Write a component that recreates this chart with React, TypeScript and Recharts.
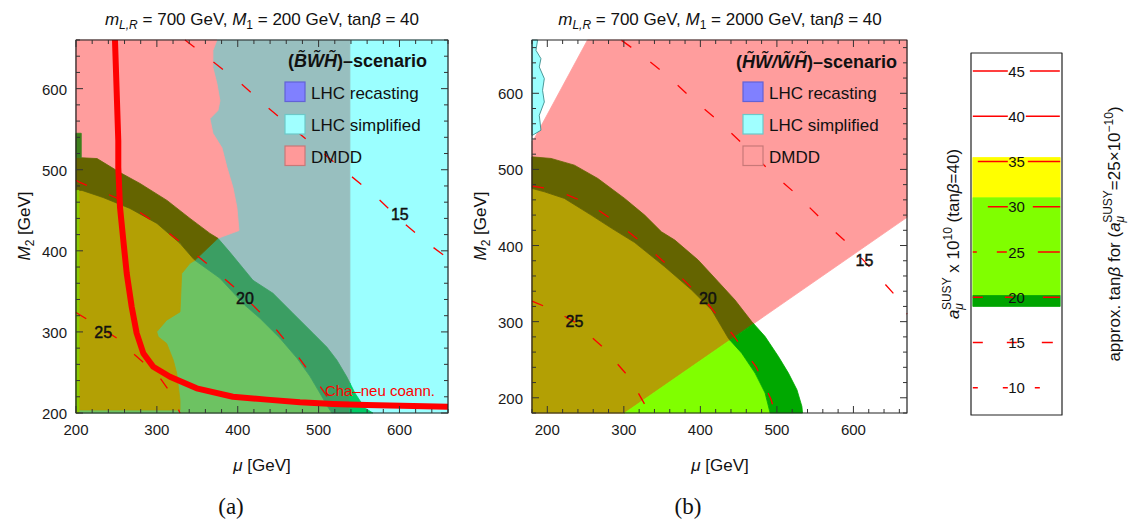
import React from 'react';
import { ComposedChart, Scatter, XAxis, YAxis } from 'recharts';

type Pt = { x: number; y: number };
type Lbl = { x: number; y: number; text: string };

const SANS = "'Liberation Sans', Arial, Helvetica, sans-serif";
const SERIF = "'Liberation Serif', 'Times New Roman', serif";

// ---------------- Panel (a): M1 = 200 GeV ----------------
const A_DOMAIN: [number, number] = [200, 660];
const A_TICKS = [200, 220, 240, 260, 280, 300, 320, 340, 360, 380, 400, 420, 440, 460, 480, 500, 520, 540, 560, 580, 600, 620, 640, 660];

const A_LHC_SIMPLIFIED: Pt[] = [{ x: 538.7, y: 200 }, { x: 660, y: 200 }, { x: 660, y: 660 }, { x: 538.7, y: 660 }];
const A_OVERLAP: Pt[] = [{ x: 200, y: 200 }, { x: 538.7, y: 200 }, { x: 538.7, y: 660 }, { x: 200, y: 660 }];
const A_DMDD: Pt[] = [
  { x: 200, y: 660 }, { x: 374.3, y: 660 }, { x: 369.3, y: 647 }, { x: 369.3, y: 626 }, { x: 374.3, y: 606 },
  { x: 378, y: 585 }, { x: 375.5, y: 573 }, { x: 365.6, y: 563 }, { x: 369.3, y: 545 }, { x: 380.5, y: 527 },
  { x: 386.7, y: 503 }, { x: 394.1, y: 478 }, { x: 399, y: 453.5 }, { x: 401.5, y: 425 }, { x: 375.5, y: 415.4 },
  { x: 365.6, y: 421.5 }, { x: 340.9, y: 440 }, { x: 312.5, y: 462.2 }, { x: 279.1, y: 483.1 }, { x: 254.4, y: 496.6 },
  { x: 226, y: 513.8 }, { x: 200, y: 515 },
];
const A_LIGHT_GREEN: Pt[] = [
  { x: 200, y: 200 }, { x: 516.4, y: 200 }, { x: 511.5, y: 207.4 }, { x: 501.6, y: 224.6 }, { x: 489.2, y: 245.5 },
  { x: 473.2, y: 267.7 }, { x: 452.2, y: 292.3 }, { x: 427.4, y: 316.9 }, { x: 408.9, y: 332.9 }, { x: 378, y: 366.2 },
  { x: 347.1, y: 388.3 }, { x: 200, y: 388.3 },
];
const A_DARK_GREEN: Pt[] = [
  { x: 375.5, y: 415.4 }, { x: 390.4, y: 398.2 }, { x: 418.8, y: 363.7 }, { x: 443.5, y: 347.7 }, { x: 468.2, y: 323.1 },
  { x: 493, y: 298.5 }, { x: 510.3, y: 281.2 }, { x: 522.6, y: 265.2 }, { x: 535, y: 244.3 }, { x: 538.7, y: 236.9 },
  { x: 538.7, y: 200 }, { x: 516.4, y: 200 }, { x: 511.5, y: 207.4 }, { x: 501.6, y: 224.6 }, { x: 489.2, y: 245.5 },
  { x: 473.2, y: 267.7 }, { x: 452.2, y: 292.3 }, { x: 427.4, y: 316.9 }, { x: 408.9, y: 332.9 }, { x: 378, y: 366.2 },
  { x: 347.1, y: 388.3 },
];
const A_BRIGHT_GREEN: Pt[] = [{ x: 538.7, y: 236.9 }, { x: 544.9, y: 224.6 }, { x: 557.2, y: 206.2 }, { x: 567.1, y: 200 }, { x: 538.7, y: 200 }];
const A_OLIVE: Pt[] = [
  { x: 203.7, y: 203.7 }, { x: 328.6, y: 203.7 }, { x: 328.6, y: 216 }, { x: 324.5, y: 248.9 }, { x: 320.3, y: 265.2 },
  { x: 312.1, y: 285.8 }, { x: 301.7, y: 293.9 }, { x: 299.8, y: 300.1 }, { x: 312.1, y: 314.5 }, { x: 328.6, y: 324.7 },
  { x: 330.7, y: 371.9 }, { x: 340.9, y: 384.6 }, { x: 347.1, y: 388.3 }, { x: 344.6, y: 390.8 }, { x: 328.6, y: 409.2 },
  { x: 300.1, y: 433.8 }, { x: 266.7, y: 452.3 }, { x: 233.4, y: 465.8 }, { x: 207.4, y: 474.5 }, { x: 203.7, y: 474.5 },
];
const A_DARK_OLIVE: Pt[] = [
  { x: 200, y: 515.1 }, { x: 226, y: 513.8 }, { x: 254.4, y: 496.6 }, { x: 279.1, y: 483.1 }, { x: 312.5, y: 462.2 },
  { x: 340.9, y: 440 }, { x: 365.6, y: 421.5 }, { x: 375.5, y: 415.4 }, { x: 347.1, y: 388.3 }, { x: 344.6, y: 390.8 },
  { x: 328.6, y: 409.2 }, { x: 300.1, y: 433.8 }, { x: 266.7, y: 452.3 }, { x: 233.4, y: 465.8 }, { x: 207.4, y: 474.5 },
  { x: 200, y: 474.5 },
];
const A_LEFT_STRIP: Pt[] = [{ x: 200, y: 200 }, { x: 203.7, y: 200 }, { x: 203.7, y: 474.5 }, { x: 200, y: 474.5 }];
const A_LEFT_SLIVER: Pt[] = [{ x: 200, y: 515 }, { x: 206.5, y: 515 }, { x: 206.5, y: 545 }, { x: 200, y: 545 }];
const A_COANN: Pt[] = [
  { x: 248.2, y: 660 }, { x: 252.3, y: 536 }, { x: 252.3, y: 503.1 }, { x: 254.4, y: 453.9 }, { x: 258.5, y: 413 },
  { x: 262.7, y: 372.3 }, { x: 268.9, y: 330.8 }, { x: 275, y: 298.5 }, { x: 283.2, y: 273.8 }, { x: 295.5, y: 257 },
  { x: 316.2, y: 244.7 }, { x: 349.2, y: 230.4 }, { x: 394, y: 220 }, { x: 436, y: 216.5 }, { x: 476.9, y: 213.2 },
  { x: 518, y: 211.1 }, { x: 559.3, y: 209.8 }, { x: 660, y: 207.8 },
];
const A_C15: Pt[] = [
  { x: 334.8, y: 660 }, { x: 402.7, y: 607.4 }, { x: 437.3, y: 576.6 }, { x: 501.6, y: 523.7 }, { x: 536.2, y: 495.4 },
  { x: 570.8, y: 467.1 }, { x: 601.7, y: 437.5 }, { x: 635.1, y: 409.2 }, { x: 659.8, y: 390.8 },
];
const A_C20: Pt[] = [
  { x: 200, y: 487 }, { x: 204.9, y: 484.3 }, { x: 254.4, y: 463.4 }, { x: 297.7, y: 435.1 }, { x: 336, y: 405.5 },
  { x: 371.8, y: 376 }, { x: 402.7, y: 348.9 }, { x: 442.3, y: 309.5 }, { x: 473.2, y: 271.4 }, { x: 501.6, y: 233.2 },
  { x: 517.7, y: 209.8 }, { x: 522.6, y: 200 },
];
const A_C25: Pt[] = [
  { x: 200, y: 324 }, { x: 229.7, y: 305.8 }, { x: 254.4, y: 289.8 }, { x: 272.9, y: 271.4 }, { x: 301.4, y: 246.8 },
  { x: 318.7, y: 222.2 }, { x: 328.6, y: 200 },
];
const A_LABELS: Lbl[] = [
  { x: 600.5, y: 444.9, text: '15' }, { x: 408.9, y: 341.5, text: '20' }, { x: 233.7, y: 299.3, text: '25' },
];
const A_COANN_LABEL: Lbl[] = [{ x: 507.8, y: 220.9, text: 'Cha–neu coann.' }];

// ---------------- Panel (b): M1 = 2000 GeV ----------------
const B_DOMAIN: [number, number] = [180, 670];
const B_TICKS = [180, 200, 220, 240, 260, 280, 300, 320, 340, 360, 380, 400, 420, 440, 460, 480, 500, 520, 540, 560, 580, 600, 620, 640, 660];

const B_LHC_SIMPLIFIED: Pt[] = [
  { x: 180, y: 670 }, { x: 187.3, y: 670 }, { x: 185.2, y: 656.4 }, { x: 191.7, y: 645.5 }, { x: 189.5, y: 634.6 },
  { x: 196.1, y: 619.3 }, { x: 193.8, y: 603.9 }, { x: 196.1, y: 588.6 }, { x: 189.5, y: 571.1 }, { x: 191.7, y: 551.5 },
  { x: 180.7, y: 544.9 }, { x: 180, y: 544.9 },
];
const B_DMDD: Pt[] = [
  { x: 180, y: 537 }, { x: 183, y: 540.6 }, { x: 252.5, y: 670 }, { x: 670, y: 670 }, { x: 670, y: 437 },
  { x: 301, y: 180 }, { x: 180, y: 180 },
];
const B_INNER_UP: Pt[] = [
  { x: 180, y: 475 }, { x: 196.1, y: 470.6 }, { x: 222.3, y: 461.9 }, { x: 257.3, y: 440 }, { x: 283.5, y: 423 },
  { x: 314.1, y: 404 }, { x: 353.4, y: 372.2 }, { x: 388.5, y: 341.6 }, { x: 414.7, y: 315.4 }, { x: 436.5, y: 278.3 },
];
const B_INNER_LO: Pt[] = [{ x: 454, y: 258.6 }, { x: 471.5, y: 232.4 }, { x: 484.6, y: 206.2 }, { x: 491.1, y: 180 }];
const B_OUTER_UP: Pt[] = [
  { x: 180, y: 516.5 }, { x: 204.9, y: 514.4 }, { x: 235.4, y: 505.6 }, { x: 266, y: 488.1 }, { x: 301, y: 461.9 },
  { x: 327.2, y: 440 }, { x: 349.1, y: 418.1 }, { x: 366.6, y: 407.2 }, { x: 397.1, y: 381 }, { x: 423.3, y: 352.5 },
  { x: 445.2, y: 328.5 }, { x: 467.1, y: 300.1 },
];
const B_OUTER_LO: Pt[] = [
  { x: 484.6, y: 280.4 }, { x: 502, y: 254.2 }, { x: 515.1, y: 232.4 }, { x: 526.2, y: 210.5 }, { x: 532.7, y: 188.6 },
  { x: 533.5, y: 180 },
];
const B_CUT_INNER: Pt = { x: 438.6, y: 275.7 };
const B_CUT_OUTER: Pt = { x: 469.6, y: 297.4 };
const B_DMDD_FOOT: Pt = { x: 301, y: 180 };
const B_CORNER: Pt = { x: 180, y: 180 };
const B_C15: Pt[] = [
  { x: 297, y: 669.5 }, { x: 320.7, y: 652.5 }, { x: 356.1, y: 623.6 }, { x: 390.2, y: 592.1 }, { x: 425.6, y: 562 },
  { x: 457, y: 531.8 }, { x: 489.8, y: 499 }, { x: 525.2, y: 467.5 }, { x: 559.3, y: 433.4 }, { x: 593.4, y: 402 },
  { x: 624.9, y: 367.9 }, { x: 655.1, y: 333.8 }, { x: 670, y: 310 },
];
const B_C20: Pt[] = [
  { x: 180, y: 478 }, { x: 207.9, y: 474.1 }, { x: 255.1, y: 454.4 }, { x: 297, y: 425.6 }, { x: 336.4, y: 392.8 },
  { x: 374.4, y: 358.7 }, { x: 409.8, y: 323.3 }, { x: 442.6, y: 282.6 }, { x: 472.8, y: 240.7 }, { x: 492.5, y: 197.4 },
  { x: 497.7, y: 180 },
];
const B_C25: Pt[] = [
  { x: 180, y: 327 }, { x: 210.5, y: 314.1 }, { x: 235.4, y: 299.7 }, { x: 272.1, y: 266.9 }, { x: 307.5, y: 226.2 },
  { x: 333.8, y: 180 },
];
const B_LABELS: Lbl[] = [
  { x: 614.4, y: 379.7, text: '15' }, { x: 409.8, y: 329.8, text: '20' }, { x: 235.4, y: 299.7, text: '25' },
];

// ---------------- Panel (c): a_mu scale ----------------
const C_DOMAIN: [number, number] = [7, 47];
const C_YELLOW_BAND = [31.0, 35.45];
const C_LIME_BAND = [20.2, 31.0];
const C_GREEN_BAND = [19.0, 20.2];
const C_LEVELS = [45, 40, 35, 30, 25, 20, 15, 10];
const C_TANB_TICKS = [25, 30, 40, 60, 80, 120];
const A_MU_REF = 25;
const TANB_REF = 40;

// ---------------- styles ----------------
const COL = {
  cyan: '#9BFFFF',
  gray: '#98BFBF',
  pink: '#FF9D9D',
  olive: '#B3A004',
  darkOlive: '#646400',
  aDarkGreen: '#3B9E63',
  aLightGreen: '#6DC262',
  brightGreen: '#00CC66',
  bDarkGreen: '#00A800',
  lime: '#80FF00',
  yellow: '#FFFF00',
  cGreen: '#00A400',
  red: '#FF0000',
};
const C_DASH: Record<number, string> = {
  45: '35 22 30',
  40: '35 18 34',
  35: '0 5 30 20 31',
  30: '0 15 20 25 26',
  25: '4 20 10 31 22',
  20: '10 22 8 30 17',
  15: '10 24 10 25 11 20',
  10: '5 25 5 27 5 30',
};

type Plot = { x0: number; x1: number; y0: number; y1: number };
const mkPlot = (w: number, h: number, m: { top: number; right: number; bottom: number; left: number }, yW: number, xH: number): Plot => ({
  x0: m.left + yW, x1: w - m.right, y0: m.top, y1: h - m.bottom - xH,
});

const LA = { left: 0, top: 0, width: 470, height: 470, margin: { top: 40, right: 22, bottom: 27, left: 36 }, yW: 40, xH: 30 };
const LB = { left: 480, top: 0, width: 440, height: 470, margin: { top: 40, right: 13, bottom: 27, left: 12 }, yW: 40, xH: 30 };
const LC = { left: 930, top: 0, width: 170, height: 470, margin: { top: 53, right: 0, bottom: 55, left: 41 }, yW: 38 };
const PA = mkPlot(LA.width, LA.height, LA.margin, LA.yW, LA.xH);
const PB = mkPlot(LB.width, LB.height, LB.margin, LB.yW, LB.xH);
const PC: Plot = { x0: LC.margin.left, x1: LC.width - LC.margin.right - LC.yW, y0: LC.margin.top, y1: LC.height - LC.margin.bottom };

const NoShape = () => <g />;
const toPath = (pts: { x: number; y: number }[], close: boolean) =>
  pts.map((p, i) => `${i === 0 ? 'M' : 'L'}${p.x.toFixed(2)},${p.y.toFixed(2)}`).join('') + (close ? 'Z' : '');

function region(key: string, data: Pt[], fill: string, yId = 'y', stroke?: string, sw = 0.8) {
  return (
    <Scatter
      key={key}
      data={data}
      xAxisId="x"
      yAxisId={yId}
      isAnimationActive={false}
      shape={NoShape}
      line={(lp: any) => (
        <path d={toPath(lp.points || [], true)} fill={fill} stroke={stroke ?? fill} strokeWidth={sw} strokeLinejoin="round" />
      )}
    />
  );
}

function curve(key: string, data: Pt[], stroke: string, sw: number, dash?: string, yId = 'y', close = false) {
  return (
    <Scatter
      key={key}
      data={data}
      xAxisId="x"
      yAxisId={yId}
      isAnimationActive={false}
      shape={NoShape}
      line={(lp: any) => (
        <path d={toPath(lp.points || [], close)} fill="none" stroke={stroke} strokeWidth={sw} strokeDasharray={dash}
          strokeLinejoin="round" strokeLinecap="butt" />
      )}
    />
  );
}

function textMarks(key: string, data: Lbl[], color: string, size: number, anchor: 'start' | 'middle', dy: number, yId = 'y', heavy = false) {
  return data.map((d, i) => (
    <Scatter
      key={`${key}-${i}`}
      data={[{ x: d.x, y: d.y }]}
      xAxisId="x"
      yAxisId={yId}
      isAnimationActive={false}
      shape={(sp: any) => (
        <text x={sp.cx} y={sp.cy + dy} textAnchor={anchor} fontSize={size} fontFamily={SANS} fill={color}
          stroke={heavy ? color : 'none'} strokeWidth={heavy ? 0.45 : 0}>{d.text}</text>
      )}
    />
  ));
}

function xTick(plot: Plot) {
  return (props: any) => {
    const v = props.payload?.value;
    const c = props.payload?.coordinate ?? props.x;
    const major = v % 100 === 0;
    const len = major ? 7 : 4;
    return (
      <g>
        <line x1={c} x2={c} y1={plot.y1} y2={plot.y1 - len} stroke="#333" strokeWidth={1} />
        <line x1={c} x2={c} y1={plot.y0} y2={plot.y0 + len} stroke="#333" strokeWidth={1} />
        {major ? (
          <text x={c} y={plot.y1 + 22} textAnchor="middle" fontSize={15} fontFamily={SANS} fill="#1a1a1a">{v}</text>
        ) : null}
      </g>
    );
  };
}

function yTick(plot: Plot) {
  return (props: any) => {
    const v = props.payload?.value;
    const c = props.payload?.coordinate ?? props.y;
    const major = v % 100 === 0;
    const len = major ? 7 : 4;
    return (
      <g>
        <line x1={plot.x0} x2={plot.x0 + len} y1={c} y2={c} stroke="#333" strokeWidth={1} />
        <line x1={plot.x1} x2={plot.x1 - len} y1={c} y2={c} stroke="#333" strokeWidth={1} />
        {major ? (
          <text x={plot.x0 - 9} y={c + 6} textAnchor="end" fontSize={15} fontFamily={SANS} fill="#1a1a1a">{v}</text>
        ) : null}
      </g>
    );
  };
}

function cTick(props: any) {
  const v = props.payload?.value;
  const c = props.payload?.coordinate ?? props.y;
  const label = Math.round((A_MU_REF * TANB_REF) / v);
  return (
    <g>
      <line x1={PC.x1} x2={PC.x1 + 4} y1={c} y2={c} stroke="#222" strokeWidth={1} />
      <text x={PC.x1 + 6} y={c + 5.5} textAnchor="start" fontSize={15} fontFamily={SANS} fill="#1a1a1a">{label}</text>
    </g>
  );
}

const frame = (d: [number, number]): Pt[] => [{ x: d[0], y: d[0] }, { x: d[1], y: d[0] }, { x: d[1], y: d[1] }, { x: d[0], y: d[1] }];
const band = (b: number[]): Pt[] => [{ x: 0.02, y: b[0] }, { x: 0.98, y: b[0] }, { x: 0.98, y: b[1] }, { x: 0.02, y: b[1] }];
const rev = (a: Pt[]) => [...a].reverse();

const B_OLIVE_POLY: Pt[] = [B_CORNER, ...B_INNER_UP, B_CUT_INNER, B_DMDD_FOOT];
const B_LIME_POLY: Pt[] = [B_DMDD_FOOT, B_CUT_INNER, ...B_INNER_LO];
const B_DARK_OLIVE_POLY: Pt[] = [...B_OUTER_UP, B_CUT_OUTER, B_CUT_INNER, ...rev(B_INNER_UP)];
const B_DARK_GREEN_POLY: Pt[] = [B_CUT_OUTER, ...B_OUTER_LO, ...rev(B_INNER_LO), B_CUT_INNER];

const DASH = '12 24';

function PanelA() {
  return (
    <ComposedChart width={LA.width} height={LA.height} margin={LA.margin}>
      {region('cyan', A_LHC_SIMPLIFIED, COL.cyan)}
      {region('gray', A_OVERLAP, COL.gray)}
      {region('pink', A_DMDD, COL.pink)}
      {region('lg', A_LIGHT_GREEN, COL.aLightGreen)}
      {region('dg', A_DARK_GREEN, COL.aDarkGreen)}
      {region('bg', A_BRIGHT_GREEN, COL.brightGreen)}
      {region('ol', A_OLIVE, COL.olive)}
      {region('dol', A_DARK_OLIVE, COL.darkOlive)}
      {region('ls', A_LEFT_STRIP, '#8CCB00')}
      {region('lsl', A_LEFT_SLIVER, '#3E7F1C')}
      {curve('c15', A_C15, COL.red, 1.3, DASH)}
      {curve('c20', A_C20, COL.red, 1.3, DASH)}
      {curve('c25', A_C25, COL.red, 1.3, DASH)}
      {curve('coann', A_COANN, COL.red, 6)}
      {textMarks('lab', A_LABELS, '#111', 16, 'middle', 5.5, 'y', true)}
      {textMarks('coannlab', A_COANN_LABEL, COL.red, 15, 'start', 0)}
      {curve('frame', frame(A_DOMAIN), '#222', 1.2, undefined, 'y', true)}
      <XAxis xAxisId="x" type="number" dataKey="x" domain={A_DOMAIN} ticks={A_TICKS} interval={0} height={LA.xH}
        axisLine={false} tickLine={false} tick={xTick(PA)} zIndex={2000} />
      <YAxis yAxisId="y" type="number" dataKey="y" domain={A_DOMAIN} ticks={A_TICKS} interval={0} width={LA.yW}
        axisLine={false} tickLine={false} tick={yTick(PA)} zIndex={2000} />
    </ComposedChart>
  );
}

function PanelB() {
  return (
    <ComposedChart width={LB.width} height={LB.height} margin={LB.margin}>
      {region('pink', B_DMDD, COL.pink)}
      {region('cyan', B_LHC_SIMPLIFIED, COL.cyan, 'y', '#3C8C8C', 0.9)}
      {region('ol', B_OLIVE_POLY, COL.olive)}
      {region('lime', B_LIME_POLY, COL.lime)}
      {region('dol', B_DARK_OLIVE_POLY, COL.darkOlive)}
      {region('dg', B_DARK_GREEN_POLY, COL.bDarkGreen)}
      {curve('c15', B_C15, COL.red, 1.3, DASH)}
      {curve('c20', B_C20, COL.red, 1.3, DASH)}
      {curve('c25', B_C25, COL.red, 1.3, DASH)}
      {textMarks('lab', B_LABELS, '#111', 16, 'middle', 5.5, 'y', true)}
      {curve('frame', frame(B_DOMAIN), '#222', 1.2, undefined, 'y', true)}
      <XAxis xAxisId="x" type="number" dataKey="x" domain={B_DOMAIN} ticks={B_TICKS} interval={0} height={LB.xH}
        axisLine={false} tickLine={false} tick={xTick(PB)} zIndex={2000} />
      <YAxis yAxisId="y" type="number" dataKey="y" domain={B_DOMAIN} ticks={B_TICKS} interval={0} width={LB.yW}
        axisLine={false} tickLine={false} tick={yTick(PB)} zIndex={2000} />
    </ComposedChart>
  );
}

function PanelC() {
  const tickPos = C_TANB_TICKS.map((t) => (A_MU_REF * TANB_REF) / t);
  return (
    <ComposedChart width={LC.width} height={LC.height} margin={LC.margin}>
      {region('yellow', band(C_YELLOW_BAND), COL.yellow, 'l')}
      {region('lime', band(C_LIME_BAND), COL.lime, 'l')}
      {region('green', band(C_GREEN_BAND), COL.cGreen, 'l')}
      {C_LEVELS.map((lv) =>
        curve(`lv${lv}`, [{ x: 0.02, y: lv }, { x: 0.98, y: lv }], COL.red, 1.5, C_DASH[lv], 'l')
      )}
      {textMarks('lvl', C_LEVELS.map((lv) => ({ x: 0.5, y: lv, text: String(lv) })), '#111', 15, 'middle', 5.5, 'l')}
      {curve('frame', [{ x: 0, y: C_DOMAIN[0] }, { x: 1, y: C_DOMAIN[0] }, { x: 1, y: C_DOMAIN[1] }, { x: 0, y: C_DOMAIN[1] }], '#222', 1.2, undefined, 'l', true)}
      <XAxis xAxisId="x" type="number" dataKey="x" domain={[0, 1]} hide />
      <YAxis yAxisId="l" type="number" dataKey="y" domain={C_DOMAIN} hide />
      <YAxis yAxisId="r" orientation="right" type="number" dataKey="y" domain={C_DOMAIN} ticks={tickPos} interval={0}
        width={LC.yW} axisLine={false} tickLine={false} tick={cTick} zIndex={2000} />
    </ComposedChart>
  );
}

function LegendBlock({ x, titleRight, titleY, scenario, dmddFill }: { x: number; titleRight: number; titleY: number; scenario: React.ReactNode; dmddFill: string }) {
  const rows = [
    { label: 'LHC recasting', fill: '#8080FF', stroke: '#6262D6', y: 82 },
    { label: 'LHC simplified', fill: '#A0FFFF', stroke: '#6CC8C8', y: 114.5 },
    { label: 'DMDD', fill: dmddFill, stroke: '#C87878', y: 146 },
  ];
  return (
    <g>
      <text x={titleRight} y={titleY} textAnchor="end" fontSize={18} fontWeight="bold" fontFamily={SANS} fill="#111" style={{ whiteSpace: 'pre' }}>
        {scenario}
      </text>
      {rows.map((r) => (
        <g key={r.label}>
          <rect x={x} y={r.y} width={20} height={19.5} fill={r.fill} stroke={r.stroke} strokeWidth={1.2} />
          <text x={x + 26} y={r.y + 16.5} fontSize={17} fontFamily={SANS} fill="#111" style={{ whiteSpace: 'pre' }}>{r.label}</text>
        </g>
      ))}
    </g>
  );
}

function Overlay() {
  const t = { fontFamily: SANS, fontSize: 17, fill: '#111' } as const;
  return (
    <svg width={1128} height={519} style={{ position: 'absolute', left: 0, top: 0, pointerEvents: 'none' }}>
      {/* titles */}
      <text x={262} y={25} textAnchor="middle" {...t} style={{ whiteSpace: 'pre' }}>
        <tspan fontStyle="italic">m</tspan>
        <tspan fontStyle="italic" fontSize={12} dy={4}>L,R</tspan>
        <tspan dy={-4}> = 700 GeV, </tspan>
        <tspan fontStyle="italic">M</tspan>
        <tspan fontSize={12} dy={4}>1</tspan>
        <tspan dy={-4}> = 200 GeV, tan</tspan>
        <tspan fontStyle="italic">β</tspan>
        <tspan> = 40</tspan>
      </text>
      <text x={720} y={25} textAnchor="middle" {...t} style={{ whiteSpace: 'pre' }}>
        <tspan fontStyle="italic">m</tspan>
        <tspan fontStyle="italic" fontSize={12} dy={4}>L,R</tspan>
        <tspan dy={-4}> = 700 GeV, </tspan>
        <tspan fontStyle="italic">M</tspan>
        <tspan fontSize={12} dy={4}>1</tspan>
        <tspan dy={-4}> = 2000 GeV, tan</tspan>
        <tspan fontStyle="italic">β</tspan>
        <tspan> = 40</tspan>
      </text>
      {/* x-axis titles */}
      <text x={262} y={471} textAnchor="middle" {...t} style={{ whiteSpace: 'pre' }}>
        <tspan fontStyle="italic">μ</tspan><tspan> [GeV]</tspan>
      </text>
      <text x={720} y={471} textAnchor="middle" {...t} style={{ whiteSpace: 'pre' }}>
        <tspan fontStyle="italic">μ</tspan><tspan> [GeV]</tspan>
      </text>
      {/* y-axis titles */}
      <text transform="translate(30,226) rotate(-90)" textAnchor="middle" {...t} style={{ whiteSpace: 'pre' }}>
        <tspan fontStyle="italic">M</tspan><tspan fontSize={12} dy={4}>2</tspan><tspan dy={-4}> [GeV]</tspan>
      </text>
      <text transform="translate(486,226) rotate(-90)" textAnchor="middle" {...t} style={{ whiteSpace: 'pre' }}>
        <tspan fontStyle="italic">M</tspan><tspan fontSize={12} dy={4}>2</tspan><tspan dy={-4}> [GeV]</tspan>
      </text>
      {/* panel letters */}
      <text x={231} y={514} textAnchor="middle" fontFamily={SERIF} fontSize={23} fill="#111">(a)</text>
      <text x={688} y={514} textAnchor="middle" fontFamily={SERIF} fontSize={23} fill="#111">(b)</text>
      {/* legends */}
      <LegendBlock x={285} titleRight={427} titleY={67} dmddFill="#FF9999"
        scenario={<><tspan>(</tspan><tspan fontStyle="italic">{'B\u0303W\u0303H\u0303'}</tspan><tspan>)–scenario</tspan></>} />
      <LegendBlock x={743} titleRight={897} titleY={68} dmddFill="#FF9D9D"
        scenario={<><tspan>(</tspan><tspan fontStyle="italic">{'H\u0303W\u0303/W\u0303H\u0303'}</tspan><tspan>)–scenario</tspan></>} />
      {/* panel (c) titles */}
      <text transform="translate(959,234) rotate(-90)" textAnchor="middle" {...t} style={{ whiteSpace: 'pre' }}>
        <tspan fontStyle="italic">a</tspan>
        <tspan fontStyle="italic" fontSize={12} dy={4}>μ</tspan>
        <tspan fontSize={12} dx={-7} dy={-12}>SUSY</tspan>
        <tspan dy={8}> x 10</tspan>
        <tspan fontSize={12} dy={-7}>10</tspan>
        <tspan dy={7}> (tan</tspan>
        <tspan fontStyle="italic">β</tspan>
        <tspan>=40)</tspan>
      </text>
      <text transform="translate(1120,234) rotate(-90)" textAnchor="middle" {...t} style={{ whiteSpace: 'pre' }}>
        <tspan>approx. tan</tspan>
        <tspan fontStyle="italic">β</tspan>
        <tspan> for (</tspan>
        <tspan fontStyle="italic">a</tspan>
        <tspan fontStyle="italic" fontSize={12} dy={4}>μ</tspan>
        <tspan fontSize={12} dx={-7} dy={-12}>SUSY</tspan>
        <tspan dy={8}>=25×10</tspan>
        <tspan fontSize={12} dy={-7}>−10</tspan>
        <tspan dy={7}>)</tspan>
      </text>
    </svg>
  );
}

export default function App() {
  return (
    <div style={{ position: 'absolute', left: 0, top: 0, width: 1128, height: 519, background: '#fff', overflow: 'hidden', fontFamily: SANS }}>
      <div style={{ position: 'absolute', left: LA.left, top: LA.top }}>
        <PanelA />
      </div>
      <div style={{ position: 'absolute', left: LB.left, top: LB.top }}>
        <PanelB />
      </div>
      <div style={{ position: 'absolute', left: LC.left, top: LC.top }}>
        <PanelC />
      </div>
      <Overlay />
    </div>
  );
}
